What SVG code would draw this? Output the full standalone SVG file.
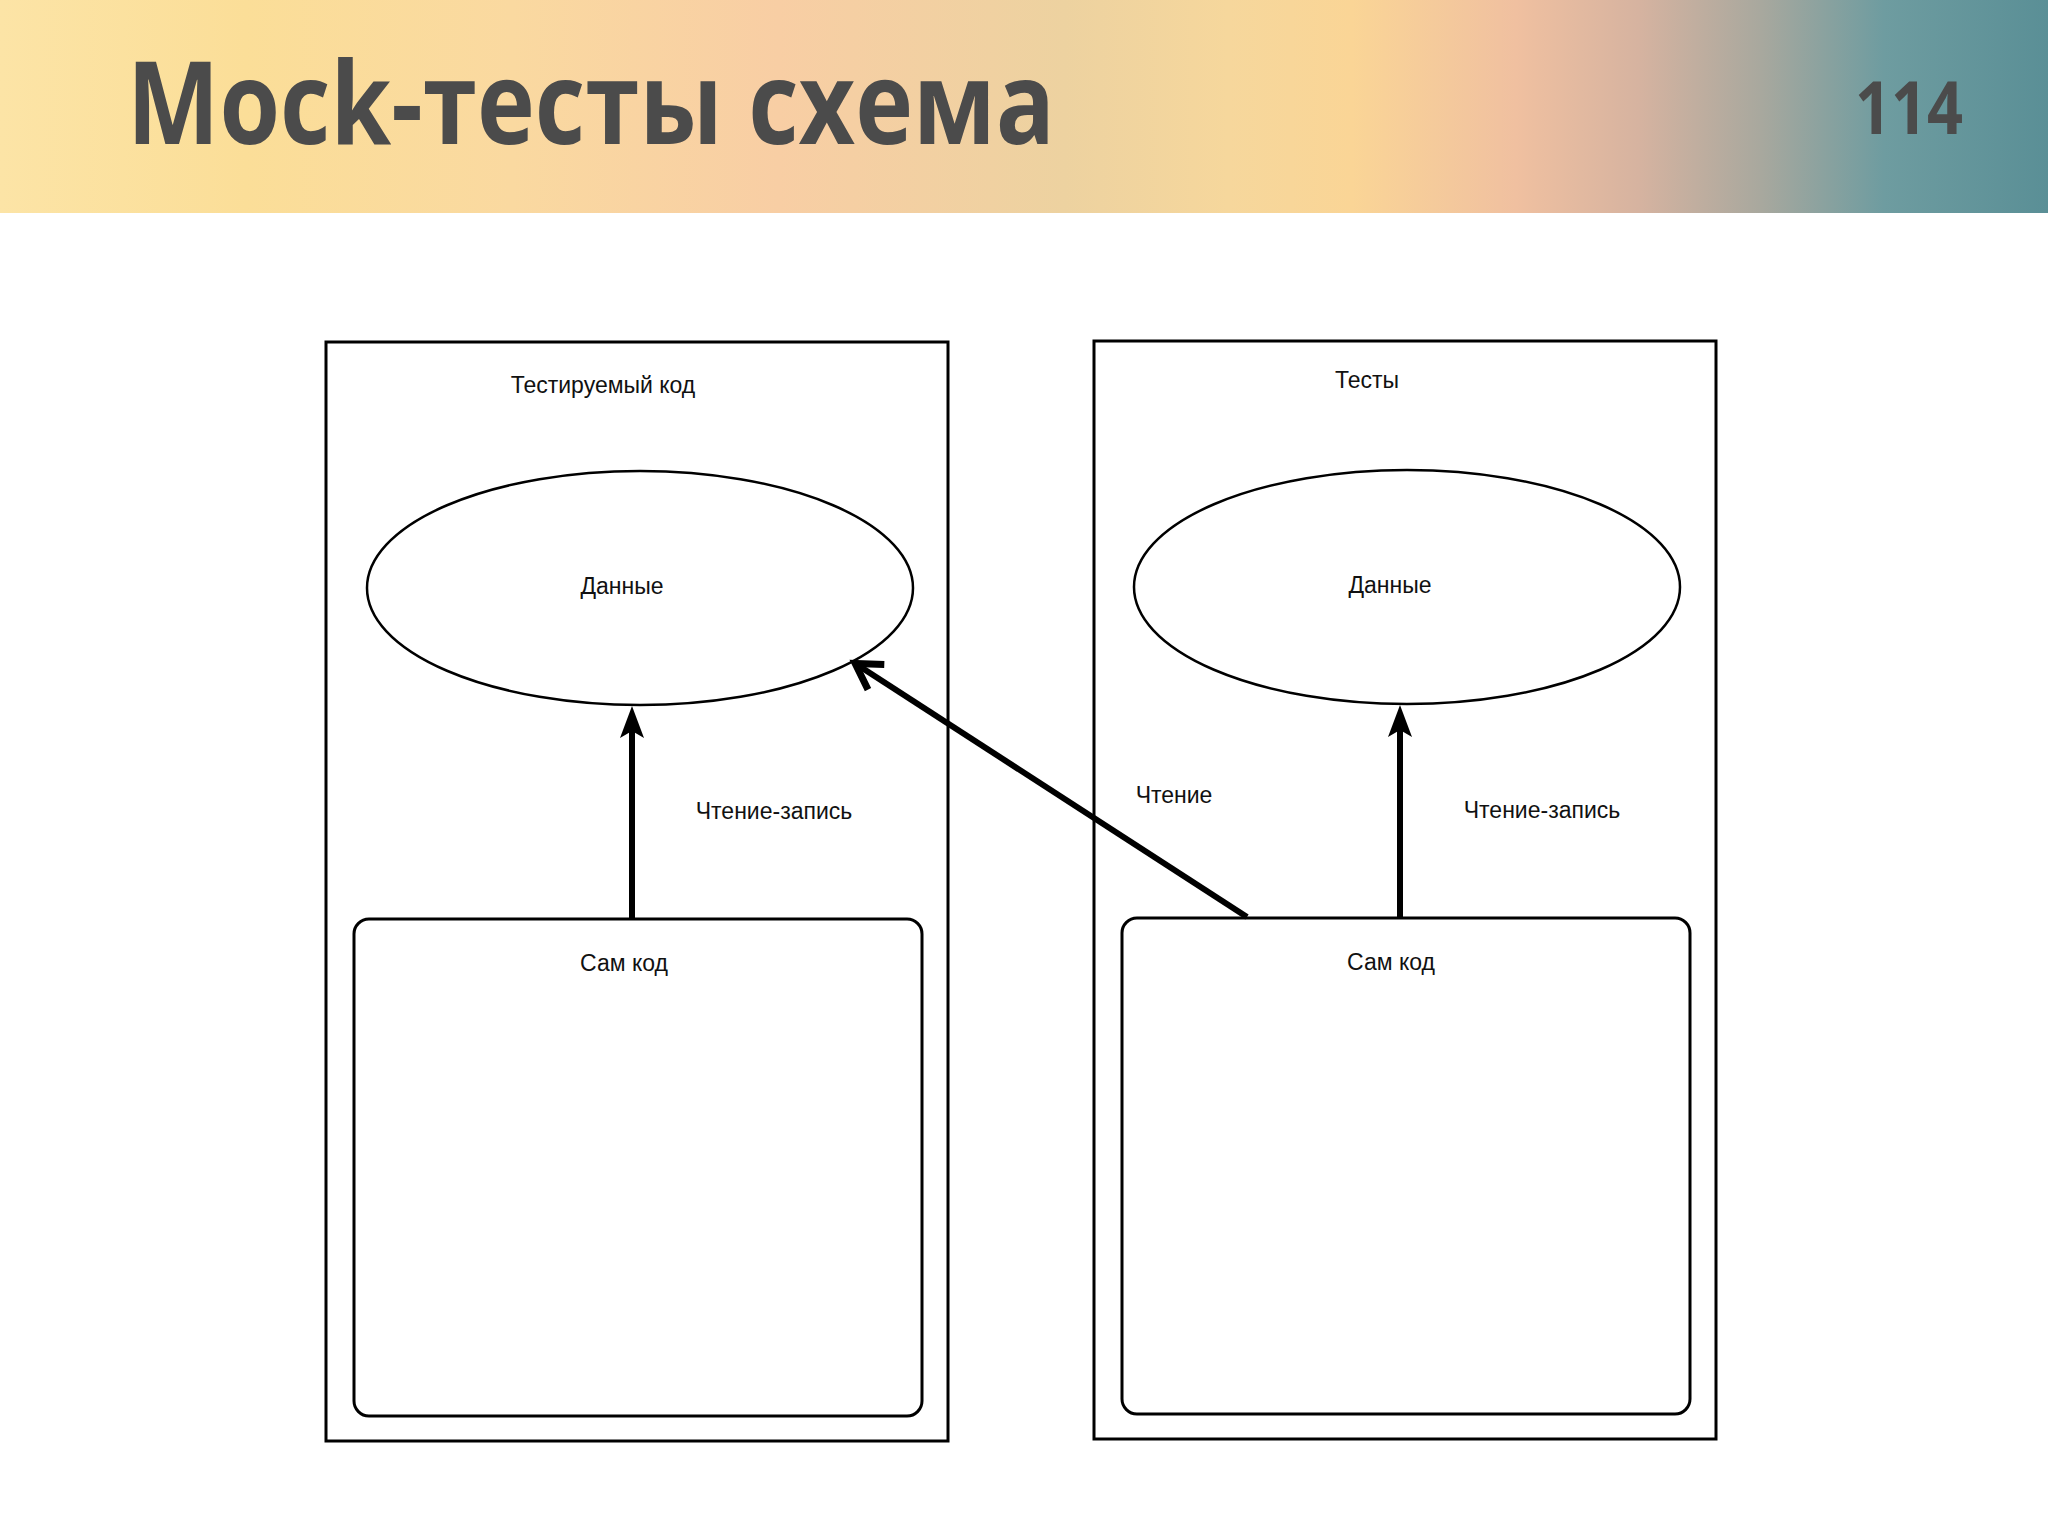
<svg xmlns="http://www.w3.org/2000/svg" width="2048" height="1536" viewBox="0 0 2048 1536">
<defs>
<linearGradient id="hdr" x1="0" y1="0" x2="1" y2="0">
<stop offset="0" stop-color="#FCE4A6"/>
<stop offset="0.12" stop-color="#FBDE98"/>
<stop offset="0.25" stop-color="#FAD9A0"/>
<stop offset="0.38" stop-color="#F8CEA4"/>
<stop offset="0.52" stop-color="#EDD2A0"/>
<stop offset="0.6" stop-color="#F6D79C"/>
<stop offset="0.66" stop-color="#FAD596"/>
<stop offset="0.74" stop-color="#F0C0A0"/>
<stop offset="0.8" stop-color="#D6B3A0"/>
<stop offset="0.86" stop-color="#A8A89E"/>
<stop offset="0.92" stop-color="#6E9CA0"/>
<stop offset="1" stop-color="#5A8F96"/>
</linearGradient>
<marker id="classic" viewBox="0 0 32 26" refX="7" refY="13" markerWidth="32" markerHeight="26" markerUnits="userSpaceOnUse" orient="auto">
<path d="M32,13 L0,1 L7,13 L0,25 Z" fill="#000"/>
</marker>
<marker id="open" viewBox="0 0 40 40" refX="32" refY="20" markerWidth="40" markerHeight="40" markerUnits="userSpaceOnUse" orient="auto">
<path d="M8,5 L33,20 L8,35" fill="none" stroke="#000" stroke-width="7"/>
</marker>
</defs>
<style>
.box{fill:#fff;stroke:#000;stroke-width:3}
.ell{fill:#fff;stroke:#000;stroke-width:2.5}
.lbl{font-family:"Liberation Sans",Arial,sans-serif;font-size:23px;fill:#111;text-anchor:middle}
.conn{fill:none;stroke:#000;stroke-width:6}
.hd{font-family:"Open Sans","DejaVu Sans",sans-serif;font-weight:700;fill:#4B4B4B}
</style>
<rect x="0" y="0" width="2048" height="1536" fill="#fff"/>
<rect x="0" y="0" width="2048" height="213" fill="url(#hdr)"/>
<text class="hd" x="127" y="144" font-size="115" textLength="928" lengthAdjust="spacingAndGlyphs">Mock-тесты схема</text>
<text class="hd" x="1855" y="134" font-size="74" textLength="108" lengthAdjust="spacingAndGlyphs">114</text>

<g id="left-container">
<rect class="box" x="326" y="342" width="622" height="1099"/>
<text class="lbl" x="603" y="393">Тестируемый код</text>
</g>
<g id="left-data">
<ellipse class="ell" cx="640" cy="588" rx="273" ry="117"/>
<text class="lbl" x="622" y="594">Данные</text>
</g>
<g id="left-code">
<rect class="box" x="354" y="919" width="568" height="497" rx="15" ry="15"/>
<text class="lbl" x="624" y="971">Сам код</text>
</g>

<g id="right-container">
<rect class="box" x="1094" y="341" width="622" height="1098"/>
<text class="lbl" x="1367" y="388">Тесты</text>
</g>
<g id="right-data">
<ellipse class="ell" cx="1407" cy="587" rx="273" ry="117"/>
<text class="lbl" x="1390" y="593">Данные</text>
</g>
<g id="right-code">
<rect class="box" x="1122" y="918" width="568" height="496" rx="15" ry="15"/>
<text class="lbl" x="1391" y="970">Сам код</text>
</g>

<g id="connectors">
<line class="conn" x1="632" y1="919" x2="632" y2="731" marker-end="url(#classic)"/>
<line class="conn" x1="1400" y1="918" x2="1400" y2="730" marker-end="url(#classic)"/>
<line class="conn" x1="1247" y1="917" x2="856" y2="664" marker-end="url(#open)"/>
<text class="lbl" x="774" y="819">Чтение-запись</text>
<text class="lbl" x="1542" y="818">Чтение-запись</text>
<text class="lbl" x="1174" y="803">Чтение</text>
</g>
</svg>
